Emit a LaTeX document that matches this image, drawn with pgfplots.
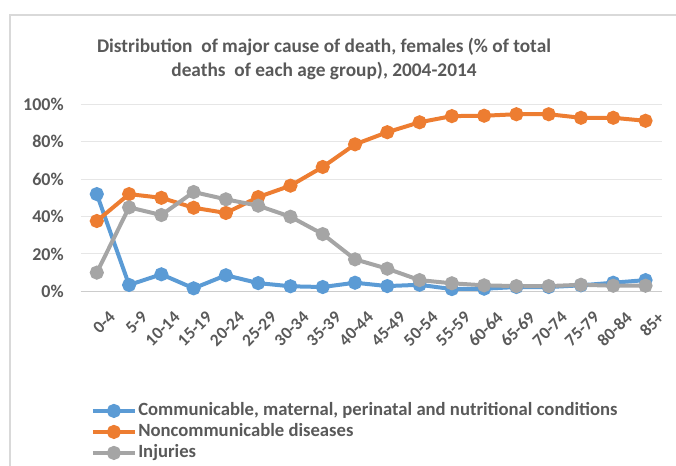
\documentclass[border=0pt]{standalone}
\usepackage{fontspec}
\setmainfont{Carlito}
\usepackage{pgfplots}
\pgfplotsset{compat=1.18}
\definecolor{cblue}{HTML}{5B9BD5}
\definecolor{corange}{HTML}{ED7D31}
\definecolor{cgray}{HTML}{A5A5A5}
\definecolor{tgray}{HTML}{595959}
\definecolor{gridc}{HTML}{E6E6E6}
\begin{document}
\begin{tikzpicture}
\path[use as bounding box] (0,0) rectangle (507pt,349.5pt);
\draw[color=black!15, line width=1.5pt] (7.5pt,0) -- (7.5pt,338.25pt) -- (507pt,338.25pt);
\node[font=\bfseries\fontsize{14.5}{17}\selectfont, text=tgray, anchor=base, inner sep=0pt] at (243pt,310.3pt)
  {Distribution~ of major cause of death, females (\% of total};
\node[font=\bfseries\fontsize{14.5}{17}\selectfont, text=tgray, anchor=base, inner sep=0pt] at (243pt,292pt)
  {deaths~ of each age group), 2004-2014};
\begin{axis}[
  at={(60.5pt,131pt)}, anchor=south west,
  scale only axis, width=435.75pt, height=140.25pt,
  xmin=-0.5, xmax=17.5, ymin=0, ymax=100,
  axis x line=bottom, axis y line=left,
  y axis line style={draw=none},
  x axis line style={draw=black!20, line width=0.8pt, -},
  major tick length=0pt,
  ymajorgrids, grid style={gridc, line width=0.8pt},
  ytick={0,20,40,60,80,100},
  yticklabels={0\%,20\%,40\%,60\%,80\%,100\%},
  xtick={0,...,17},
  xticklabels={0-4,5-9,10-14,15-19,20-24,25-29,30-34,35-39,40-44,45-49,50-54,55-59,60-64,65-69,70-74,75-79,80-84,85+},
  tick label style={text=tgray, inner sep=0pt},
  x tick label style={font=\bfseries\fontsize{13}{15}\selectfont, rotate=45, anchor=north east, xshift=-4pt, yshift=-16pt},
  y tick label style={font=\bfseries\fontsize{13.5}{15}\selectfont, anchor=east, xshift=-12.5pt},
  legend style={at={(0.0172,-0.582)}, anchor=north west, draw=none, fill=none,
    font=\bfseries\fontsize{14}{16}\selectfont, text=tgray, row sep=0pt,
    inner sep=0pt, nodes={inner sep=1pt, text height=10pt, text depth=3.75pt}},
  legend cell align=left,
  legend image code/.code={\draw[mark repeat=2,mark phase=2] plot coordinates {(0pt,0pt)(15.75pt,0pt)(31.5pt,0pt)};},
  every axis plot/.append style={line width=3pt, mark=*, mark size=3.75pt, mark options={solid}},
]
\addplot[cblue] coordinates {
(0,52.0)(1,3.4)(2,9.1)(3,1.6)(4,8.6)(5,4.4)(6,2.7)(7,2.3)(8,4.6)(9,2.8)
(10,3.5)(11,1.2)(12,1.4)(13,2.3)(14,2.3)(15,3.2)(16,4.6)(17,6.0)};
\addlegendentry{Communicable, maternal, perinatal and nutritional conditions}
\addplot[corange] coordinates {
(0,37.6)(1,52.0)(2,50.0)(3,44.7)(4,41.9)(5,50.4)(6,56.5)(7,66.5)(8,78.6)(9,85.1)
(10,90.4)(11,93.7)(12,93.9)(13,94.7)(14,94.7)(15,92.8)(16,92.8)(17,91.2)};
\addlegendentry{Noncommunicable diseases}
\addplot[cgray] coordinates {
(0,10.0)(1,44.9)(2,40.8)(3,53.1)(4,49.2)(5,45.8)(6,39.9)(7,30.6)(8,17.1)(9,12.1)
(10,6.0)(11,4.3)(12,3.2)(13,2.8)(14,2.8)(15,3.5)(16,3.0)(17,3.0)};
\addlegendentry{Injuries}
\end{axis}
\end{tikzpicture}
\end{document}
